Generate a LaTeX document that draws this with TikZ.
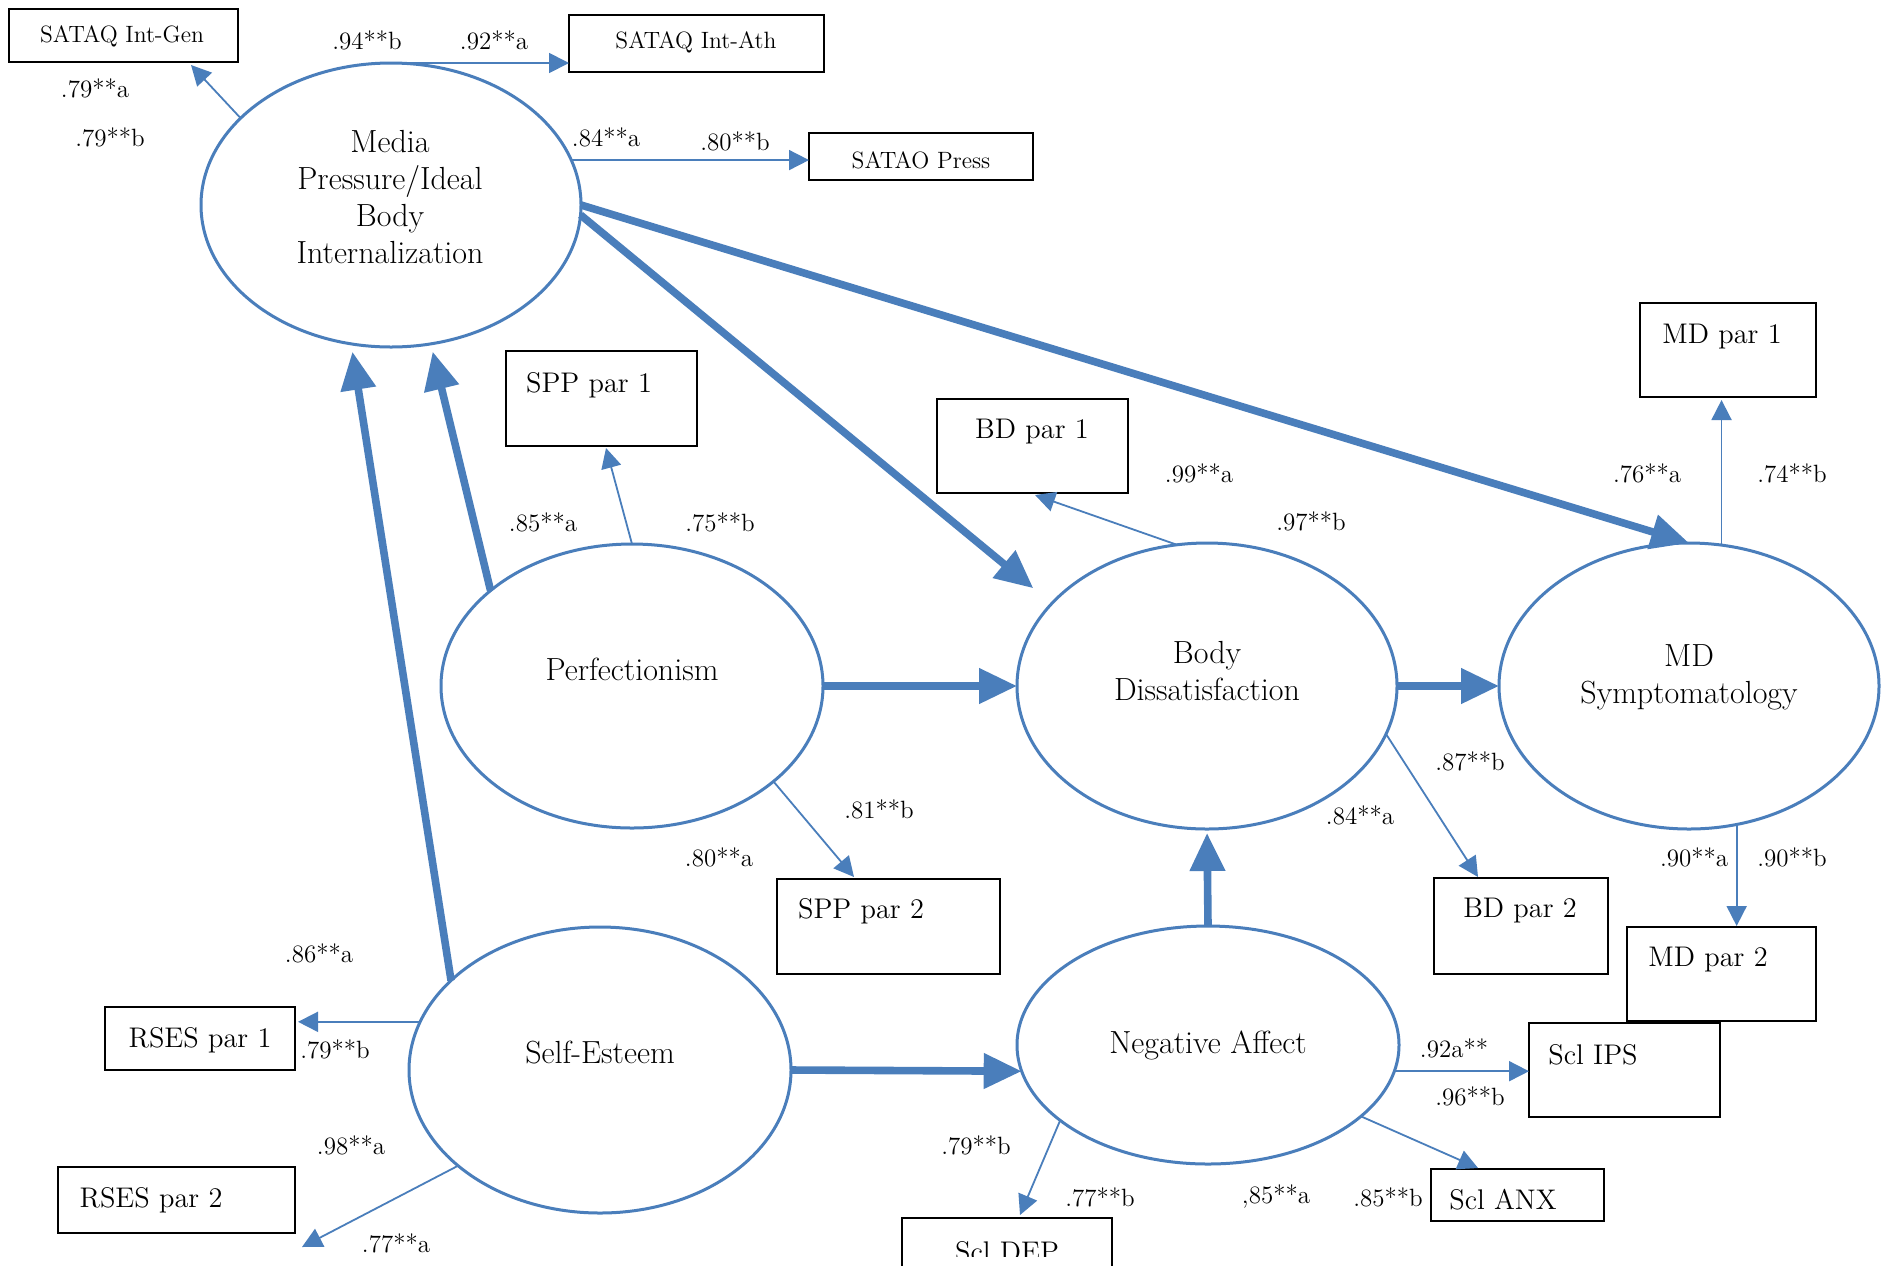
\documentclass[tikz,border=0pt]{standalone}
\usepackage{fontspec}
\usetikzlibrary{arrows.meta,shapes.geometric,calc}
\definecolor{ablue}{RGB}{74,126,187}
\tikzset{
  lat/.style={draw=ablue, line width=1.5pt, ellipse, inner sep=0pt, outer sep=0pt},
  lattxt/.style={font=\fontsize{16}{18.5}\selectfont, align=center, inner sep=0pt},
  obox/.style={draw=black, line width=1pt, fill=white, rectangle, inner sep=0pt, outer sep=0pt, anchor=north west},
  btxt/.style={font=\fontsize{14.2}{17}\selectfont, inner sep=0pt},
  stxt/.style={font=\fontsize{11.8}{14}\selectfont, inner sep=0pt},
  lbl/.style={font=\fontsize{12.5}{15}\selectfont, inner sep=0pt},
  thinar/.style={draw=ablue, line width=0.9pt, -{Triangle[length=10pt,width=10pt]}},
  thickar/.style={draw=ablue, line width=3.8pt, -{Triangle[length=19pt,width=17pt]}}
}
\begin{document}
\begin{tikzpicture}[x=0.5pt,y=-0.5pt]
\useasboundingbox (0,0) rectangle (1888,1265);
\fill[white] (0,0) rectangle (1888,1265);
\clip (0,0) rectangle (1888,1265);

% latent variables
\node[lat, minimum width=190pt, minimum height=142pt] (med) at (391,205) {};
\node[lat, minimum width=191pt, minimum height=142pt] (perf) at (632,686) {};
\node[lat, minimum width=190pt, minimum height=143pt] (bd) at (1207,686) {};
\node[lat, minimum width=190pt, minimum height=143pt] (md) at (1689,686) {};
\node[lat, minimum width=191pt, minimum height=143pt] (se) at (600,1070) {};
\node[lat, minimum width=191pt, minimum height=119pt] (na) at (1208,1045) {};

\node[lattxt] (medtxt) at (390,197) {Media\\Pressure/Ideal\\Body\\Internalization};
\node[lattxt] (perftxt) at (632,669) {Perfectionism};
\node[lattxt] (bdtxt) at (1207,671) {Body\\Dissatisfaction};
\node[lattxt] (mdtxt) at (1689,677) {MD\\Symptomatology};
\node[lattxt] (setxt) at (600,1053) {Self-Esteem};
\node[lattxt] (natxt) at (1208,1045) {Negative Affect};

% observed boxes
\node[obox, minimum width=114.5pt, minimum height=26.5pt] (gen) at (9,9) {};
\node[obox, minimum width=127.5pt, minimum height=28.5pt] (ath) at (569,15) {};
\node[obox, minimum width=112pt, minimum height=23.5pt] (press) at (809,133) {};
\node[obox, minimum width=95.5pt, minimum height=47.5pt] (spp1) at (506,351) {};
\node[obox, minimum width=95.5pt, minimum height=47pt] (bd1) at (937,399) {};
\node[obox, minimum width=88pt, minimum height=47pt] (mdp1) at (1640,303) {};
\node[obox, minimum width=111.5pt, minimum height=47.5pt] (spp2) at (777,879) {};
\node[obox, minimum width=87pt, minimum height=48pt] (bd2) at (1434,878) {};
\node[obox, minimum width=94.5pt, minimum height=47pt] (mdp2) at (1627,927) {};
\node[obox, minimum width=95.5pt, minimum height=47pt] (ips) at (1529,1023) {};
\node[obox, minimum width=86.5pt, minimum height=26pt] (anx) at (1431,1169) {};
\node[obox, minimum width=95pt, minimum height=31.5pt] (rses1) at (105,1007) {};
\node[obox, minimum width=118.5pt, minimum height=33pt] (rses2) at (58,1167) {};
\node[obox, minimum width=105pt, minimum height=41pt] (dep) at (902,1218) {};

\node[stxt] (gentxt) at (122,36) {SATAQ Int-Gen};
\node[stxt] (athtxt) at (696,42) {SATAQ Int-Ath};
\node[stxt] (presstxt) at (921,160) {SATAO Press};
\node[btxt] (spp1txt) at (589,385) {SPP par 1};
\node[btxt] (bd1txt) at (1032,432) {BD par 1};
\node[btxt] (mdp1txt) at (1722,337) {MD par 1};
\node[btxt] (spp2txt) at (861,911) {SPP par 2};
\node[btxt] (bd2txt) at (1520,911) {BD par 2};
\node[btxt] (mdp2txt) at (1708,960) {MD par 2};
\node[btxt] (ipstxt) at (1593,1055) {Scl IPS};
\node[btxt] (anxtxt) at (1503,1200) {Scl ANX};
\node[btxt] (rses1txt) at (200,1040) {RSES par 1};
\node[btxt] (rses2txt) at (151,1200) {RSES par 2};
\begin{scope}
\clip (902,1218) rectangle (1112,1256);
\node[btxt, anchor=base] (deptxt) at (1007,1261) {Scl DEP};
\end{scope}

% connectors
\draw[thinar] (med.north) -- (med.north -| ath.west);
\draw[thinar] (med.150) -- ($(gen.south west)+(182,3)$);
\draw[thinar] (med.14) -- (med.14 -| press.west);
\draw[thickar, shorten >=12pt] (med.-3) -- (bd.152);
\draw[thickar] (med.east) -- (md.north);
\draw[thickar, shorten >=4pt] (perf.146) -- (med.-74);
\draw[thickar, shorten >=4pt] (se.149) -- (med.-106);
\draw[thinar] (perf.north) -- ($(spp1.south west)+(100,2)$);
\draw[thickar] (perf.east) -- (bd.west);
\draw[thinar] (perf.-34) -- ($(spp2.north west)+(77,-2)$);
\draw[thinar] (bd.102) -- ($(bd1.south west)+(98,2)$);
\draw[thickar] (bd.east) -- (md.west);
\draw[thinar, shorten >=1.5pt] (md.77) -- (md.77 |- mdp1.south);
\draw[thinar] (bd.-15) -- ($(bd2.north west)+(44,-1)$);
\draw[thinar, shorten >=0.5pt] (md.-71) -- (md.-71 |- mdp2.north);
\draw[thickar, shorten >=2pt] (na.north) -- (bd.south);
\draw[thickar] (se.east) -- (na.-172);
\draw[thinar, shorten >=1.5pt] (se.165) -- (se.165 -| rses1.east);
\draw[thinar] (se.-146) -- ($(rses2.south east)+(7,14)$);
\draw[thinar] (na.-8) -- (na.-8 -| ips.west);
\draw[thinar] (na.-25) -- ($(anx.north west)+(47,-1)$);
\draw[thinar] (na.-153) -- ($(dep.north west)+(118,-3)$);

% loadings
\node[lbl] (l01) at (367,40) {.94**b};
\node[lbl] (l02) at (494,40) {.92**a};
\node[lbl] (l03) at (95,88) {.79**a};
\node[lbl] (l04) at (110,137) {.79**b};
\node[lbl] (l05) at (606,137) {.84**a};
\node[lbl] (l06) at (735,141) {.80**b};
\node[lbl] (l07) at (543,522) {.85**a};
\node[lbl] (l08) at (720,522) {.75**b};
\node[lbl] (l09) at (1199,473) {.99**a};
\node[lbl] (l10) at (1311,521) {.97**b};
\node[lbl] (l11) at (1647,473) {.76**a};
\node[lbl] (l12) at (1792,473) {.74**b};
\node[lbl] (l13) at (1470,761) {.87**b};
\node[lbl] (l14) at (1360,815) {.84**a};
\node[lbl] (l15) at (879,809) {.81**b};
\node[lbl] (l16) at (719,857) {.80**a};
\node[lbl] (l17) at (1694,857) {.90**a};
\node[lbl] (l18) at (1792,857) {.90**b};
\node[lbl] (l19) at (319,953) {.86**a};
\node[lbl] (l20) at (335,1049) {.79**b};
\node[lbl] (l21) at (351,1145) {.98**a};
\node[lbl] (l22) at (396,1243) {.77**a};
\node[lbl] (l23) at (1454,1048) {.92a**};
\node[lbl] (l24) at (1470,1096) {.96**b};
\node[lbl] (l25) at (976,1145) {.79**b};
\node[lbl] (l26) at (1100,1197) {.77**b};
\node[lbl] (l27) at (1276,1197) {,85**a};
\node[lbl] (l28) at (1388,1197) {.85**b};
\end{tikzpicture}
\end{document}
